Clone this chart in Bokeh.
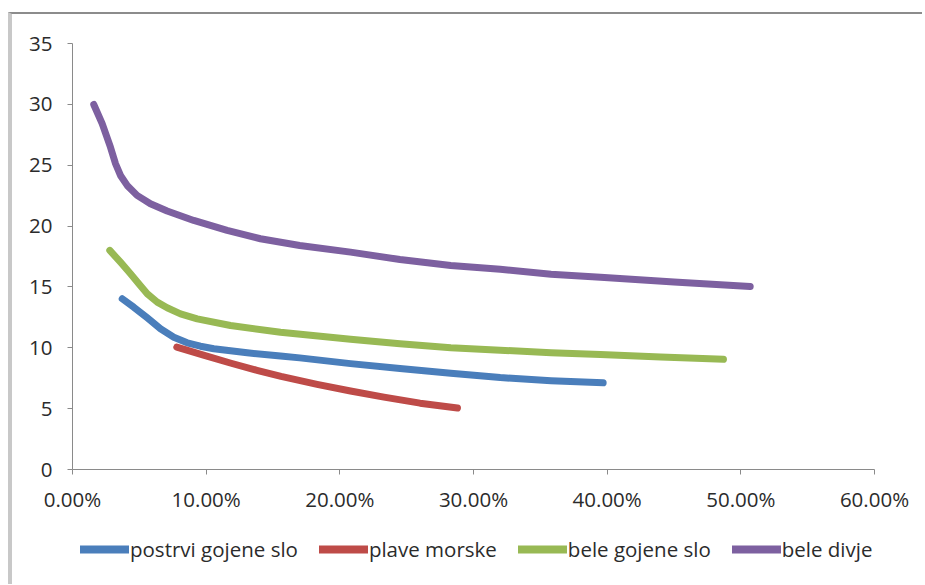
from bokeh.plotting import figure
from bokeh.layouts import column
from bokeh.models import Range1d, Legend, LegendItem, NumeralTickFormatter, FixedTicker
from bokeh.embed import file_html
from bokeh.resources import INLINE

# ---- data (x as fraction, y values) ----
blue_name = "postrvi gojene slo"
blue_x = [0.0372, 0.0458, 0.0559, 0.0658, 0.0758, 0.0858, 0.0957, 0.1057, 0.1307, 0.1556, 0.170, 0.208, 0.245, 0.283, 0.320, 0.358, 0.397]
blue_y = [14.03, 13.34, 12.46, 11.56, 10.87, 10.41, 10.13, 9.92, 9.59, 9.32, 9.17, 8.7, 8.3, 7.9, 7.55, 7.3, 7.12]

red_name = "plave morske"
red_x = [0.078, 0.098, 0.118, 0.138, 0.156, 0.183, 0.208, 0.233, 0.260, 0.288]
red_y = [10.05, 9.4, 8.75, 8.15, 7.65, 7.0, 6.45, 5.95, 5.45, 5.05]

green_name = "bele gojene slo"
green_x = [0.0279, 0.0359, 0.0434, 0.0496, 0.0559, 0.0634, 0.0708, 0.0808, 0.0933, 0.1182, 0.1556, 0.208, 0.245, 0.283, 0.320, 0.358, 0.395, 0.440, 0.487]
green_y = [18.0, 17.03, 16.08, 15.26, 14.44, 13.75, 13.29, 12.79, 12.38, 11.83, 11.28, 10.7, 10.33, 10.0, 9.8, 9.6, 9.45, 9.25, 9.05]

purple_name = "bele divje"
purple_x = [0.0159, 0.0222, 0.0284, 0.0322, 0.0359, 0.0409, 0.0483, 0.0583, 0.0708, 0.0907, 0.1157, 0.1406, 0.170, 0.208, 0.245, 0.283, 0.320, 0.358, 0.395, 0.450, 0.507]
purple_y = [29.99, 28.41, 26.48, 25.12, 24.16, 23.34, 22.52, 21.83, 21.24, 20.46, 19.64, 18.96, 18.4, 17.86, 17.25, 16.76, 16.45, 16.05, 15.8, 15.4, 15.04]

x_ticks = [0.0, 0.1, 0.2, 0.3, 0.4, 0.5, 0.6]
y_ticks = [0, 5, 10, 15, 20, 25, 30, 35]

series = [
    (blue_name, blue_x, blue_y, "#4A7EBB"),
    (red_name, red_x, red_y, "#BE4B48"),
    (green_name, green_x, green_y, "#98B954"),
    (purple_name, purple_x, purple_y, "#7D60A0"),
]

FONT = "Open Sans"
TXT = "#2b2b2b"
FS = "20.5px"

W = 910
p = figure(width=W, height=510, output_backend="svg", toolbar_location=None,
           x_range=Range1d(0, 0.6), y_range=Range1d(0, 35),
           min_border_left=60, min_border_right=48, min_border_top=29, min_border_bottom=55)
p.outline_line_color = None
p.grid.visible = False
p.background_fill_color = "white"
p.border_fill_color = "white"

for ax in (p.xaxis[0], p.yaxis[0]):
    ax.axis_line_color = "#8a8a8a"
    ax.axis_line_width = 1
    ax.major_tick_line_color = "#8a8a8a"
    ax.major_tick_out = 5
    ax.major_tick_in = 0
    ax.minor_tick_line_color = None
    ax.major_label_text_font = FONT
    ax.major_label_text_font_size = FS
    ax.major_label_text_color = TXT

p.xaxis.ticker = FixedTicker(ticks=x_ticks)
p.yaxis.ticker = FixedTicker(ticks=y_ticks)
p.xaxis.formatter = NumeralTickFormatter(format="0.00%")
p.xaxis.major_label_standoff = 10
p.yaxis.major_label_standoff = 15

for name, xs, ys, col in series:
    p.line(xs, ys, line_color=col, line_width=7, line_cap="round", line_join="round")

# legend strip below the chart (same series, drawn out of view; only the legend shows)
p2 = figure(width=W, height=60, output_backend="svg", toolbar_location=None,
            x_range=Range1d(0, 0.6), y_range=Range1d(100, 101),
            x_axis_type=None, y_axis_type=None,
            min_border_left=60, min_border_right=48, min_border_top=0, min_border_bottom=0)
p2.outline_line_color = None
p2.grid.visible = False
p2.border_fill_color = "white"
items = []
for name, xs, ys, col in series:
    r2 = p2.line(xs, ys, line_color=col, line_width=8, line_cap="round")
    items.append(LegendItem(label=name, renderers=[r2]))

legend = Legend(items=items, orientation="horizontal", location=(8, 21),
                label_text_font=FONT, label_text_font_size=FS, label_text_color=TXT,
                glyph_width=49, glyph_height=20, label_standoff=1, spacing=21,
                padding=0, margin=0, border_line_color=None, background_fill_alpha=0)
p2.add_layout(legend, "center")

layout = column(p, p2, spacing=0,
                styles={"border-top": "2px solid #8c8c8c", "border-left": "4px solid #c8c8c8",
                        "margin-top": "12px", "margin-left": "8px"})

open("out.html", "w").write(file_html(layout, INLINE))
